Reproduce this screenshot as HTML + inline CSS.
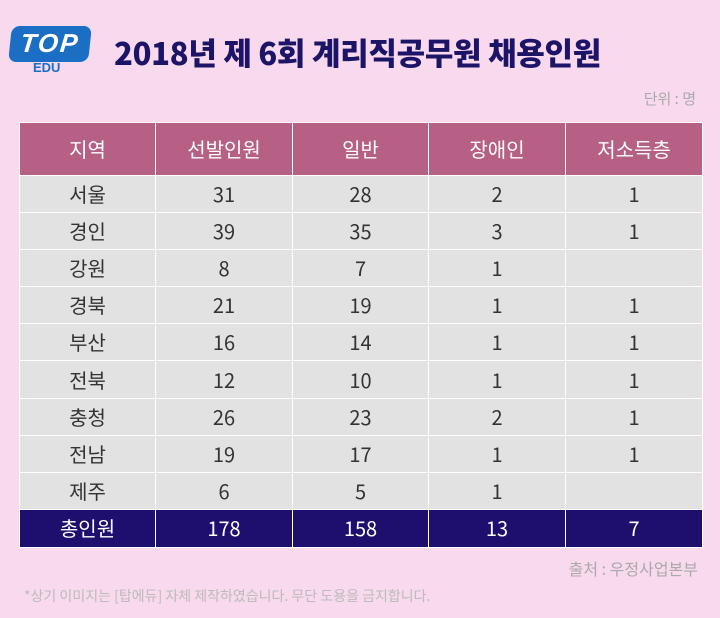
<!DOCTYPE html>
<html><head><meta charset="utf-8"><style>
body{margin:0;width:720px;height:618px;background:#f8d9ee;font-family:"Noto Sans CJK KR",sans-serif;position:relative;overflow:hidden}
.logo{position:absolute;left:10px;top:26px;width:80px;height:36px;background:#1a6fc4;border-radius:8px;transform:skewX(-6deg)}
.logo span{position:absolute;left:0;right:0;top:2px;text-align:center;color:#fff;font:italic bold 26px "Liberation Sans",sans-serif;letter-spacing:2px}
.edu{position:absolute;left:33px;top:60px;font:bold 13px "Liberation Sans",sans-serif;color:#1a6fc4}
h1{position:absolute;left:114px;top:30px;margin:0;font-size:31px;line-height:44px;font-weight:900;color:#1c1466;letter-spacing:-0.3px;font-family:"Noto Sans CJK KR",sans-serif}
.unit{position:absolute;right:24px;top:88px;font-size:15px;color:#aaa}
table{position:absolute;left:19px;top:122px;width:683px;border-collapse:collapse;table-layout:fixed}
td,th{border:1.5px solid #fff;text-align:center;font-size:20px;font-weight:normal;color:#333;padding:0;line-height:24px;vertical-align:middle;font-family:"Noto Sans CJK KR",sans-serif}
th{background:#b66085;color:#fff;height:52px}
td{background:#e2e2e2;height:36.1px}
tr.tot td{background:#1e0f6e;color:#fff;height:37px}
.src{position:absolute;right:22px;top:556px;font-size:16px;color:#aaa}
.note{position:absolute;left:24px;top:586px;font-size:14px;color:#bbb}
</style></head><body>
<div class="logo"><span>TOP</span></div>
<div class="edu">EDU</div>
<h1>2018년 제 6회 계리직공무원 채용인원</h1>
<div class="unit">단위 : 명</div>
<table>
<colgroup><col style="width:136px"><col style="width:137px"><col style="width:136px"><col style="width:137px"><col style="width:137px"></colgroup>
<tr><th>지역</th><th>선발인원</th><th>일반</th><th>장애인</th><th>저소득층</th></tr>
<tr><td>서울</td><td>31</td><td>28</td><td>2</td><td>1</td></tr>
<tr><td>경인</td><td>39</td><td>35</td><td>3</td><td>1</td></tr>
<tr><td>강원</td><td>8</td><td>7</td><td>1</td><td></td></tr>
<tr><td>경북</td><td>21</td><td>19</td><td>1</td><td>1</td></tr>
<tr><td>부산</td><td>16</td><td>14</td><td>1</td><td>1</td></tr>
<tr><td>전북</td><td>12</td><td>10</td><td>1</td><td>1</td></tr>
<tr><td>충청</td><td>26</td><td>23</td><td>2</td><td>1</td></tr>
<tr><td>전남</td><td>19</td><td>17</td><td>1</td><td>1</td></tr>
<tr><td>제주</td><td>6</td><td>5</td><td>1</td><td></td></tr>
<tr class="tot"><td>총인원</td><td>178</td><td>158</td><td>13</td><td>7</td></tr>
</table>
<div class="src">출처 : 우정사업본부</div>
<div class="note">*상기 이미지는 [탑에듀] 자체 제작하였습니다. 무단 도용을 금지합니다.</div>
</body></html>
